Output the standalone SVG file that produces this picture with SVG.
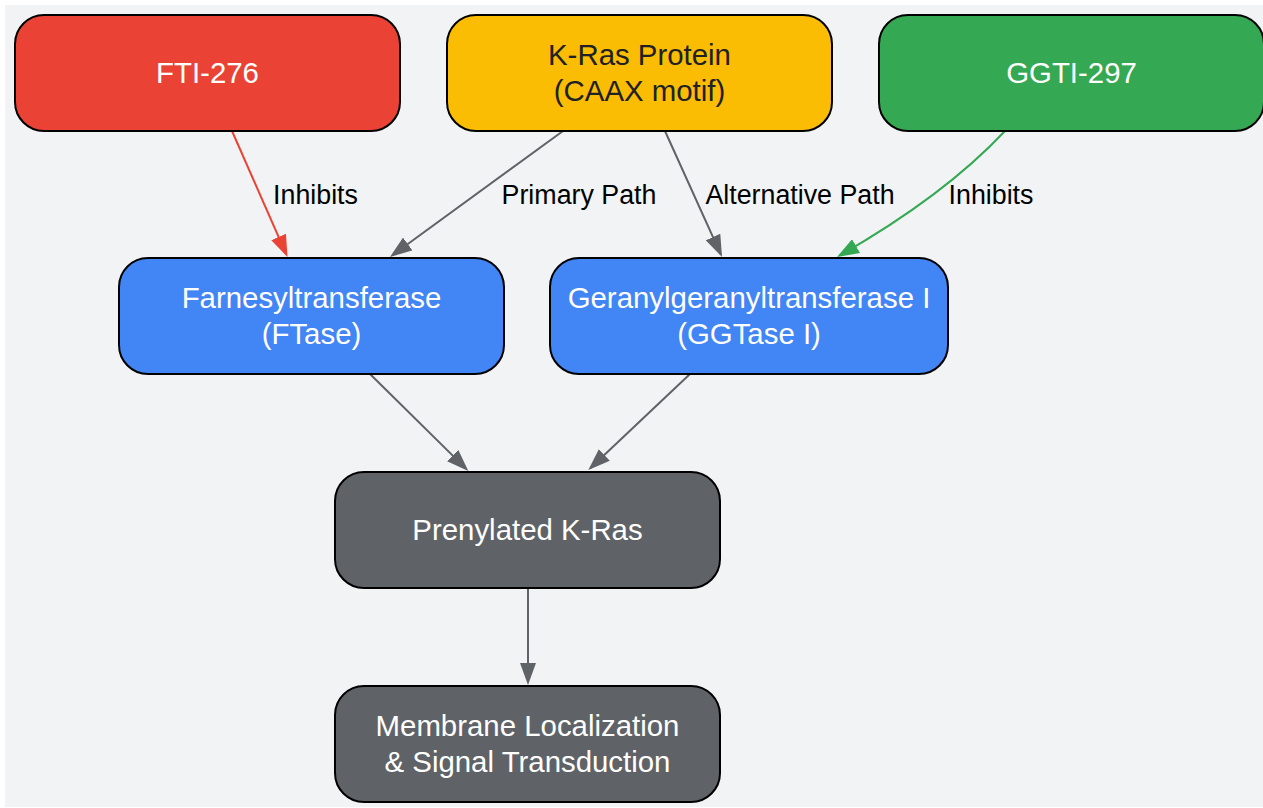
<svg xmlns="http://www.w3.org/2000/svg" width="1263" height="808" viewBox="0 0 1263 808">
<style>
.node rect{stroke:#000;stroke-width:2}
.nt{font-family:"Liberation Sans",Arial,sans-serif;font-size:29.4px;text-anchor:middle;fill:#fff}
.lbl{font-family:"Liberation Sans",Arial,sans-serif;font-size:26.8px;text-anchor:middle;fill:#000}
.e{fill:none;stroke-width:2}
</style>
<defs>
<marker id="ag" viewBox="0 0 22 16" markerWidth="22" markerHeight="16" refX="19" refY="8" orient="auto" markerUnits="userSpaceOnUse"><path d="M0,0 L22,8 L0,16 z" fill="#5F6368"/></marker>
<marker id="ar" viewBox="0 0 22 16" markerWidth="22" markerHeight="16" refX="19" refY="8" orient="auto" markerUnits="userSpaceOnUse"><path d="M0,0 L22,8 L0,16 z" fill="#EA4335"/></marker>
<marker id="agr" viewBox="0 0 22 16" markerWidth="22" markerHeight="16" refX="19" refY="8" orient="auto" markerUnits="userSpaceOnUse"><path d="M0,0 L22,8 L0,16 z" fill="#34A853"/></marker>
</defs>
<rect x="0" y="0" width="1263" height="808" fill="#ffffff"/>
<rect x="5" y="5" width="1258" height="802" fill="#F1F3F4"/>
<g id="connectors">
<path class="e" d="M232,131 L286.3,254.3" stroke="#EA4335" marker-end="url(#ar)"/>
<path class="e" d="M563,131 L392.4,255.2" stroke="#5F6368" marker-end="url(#ag)"/>
<path class="e" d="M665,131 L720.8,254.3" stroke="#5F6368" marker-end="url(#ag)"/>
<path class="e" d="M1005,131 Q944,196 839.6,255.5" stroke="#34A853" marker-end="url(#agr)"/>
<path class="e" d="M370,374 L466.2,468.9" stroke="#5F6368" marker-end="url(#ag)"/>
<path class="e" d="M690,374 L590.5,468" stroke="#5F6368" marker-end="url(#ag)"/>
<path class="e" d="M528,588 L528,682" stroke="#5F6368" marker-end="url(#ag)"/>
<text class="lbl" x="315.5" y="204">Inhibits</text>
<text class="lbl" x="579" y="204">Primary Path</text>
<text class="lbl" x="800" y="204">Alternative Path</text>
<text class="lbl" x="991" y="204">Inhibits</text>
</g>
<g id="fti" class="node"><rect x="15" y="15" width="385" height="116" rx="29" fill="#EA4335"/><text class="nt" x="207.5" y="83">FTI-276</text></g>
<g id="kras" class="node"><rect x="447" y="15" width="385" height="116" rx="29" fill="#FBBC04"/><text class="nt" x="639.5" y="65" fill="#202124" style="fill:#202124">K-Ras Protein</text><text class="nt" x="639.5" y="101" style="fill:#202124">(CAAX motif)</text></g>
<g id="ggti" class="node"><rect x="879" y="15" width="385" height="116" rx="29" fill="#34A853"/><text class="nt" x="1071.5" y="83">GGTI-297</text></g>
<g id="ftase" class="node"><rect x="119" y="258" width="385" height="116" rx="29" fill="#4285F4"/><text class="nt" x="311.5" y="308">Farnesyltransferase</text><text class="nt" x="311.5" y="344">(FTase)</text></g>
<g id="ggtase" class="node"><rect x="550" y="258" width="398" height="116" rx="29" fill="#4285F4"/><text class="nt" x="749" y="308">Geranylgeranyltransferase I</text><text class="nt" x="749" y="344">(GGTase I)</text></g>
<g id="prenyl" class="node"><rect x="335" y="472" width="385" height="116" rx="29" fill="#5F6368"/><text class="nt" x="527.5" y="540">Prenylated K-Ras</text></g>
<g id="membrane" class="node"><rect x="335" y="686" width="385" height="116" rx="29" fill="#5F6368"/><text class="nt" x="527.5" y="736">Membrane Localization</text><text class="nt" x="527.5" y="772">&amp; Signal Transduction</text></g>
</svg>
